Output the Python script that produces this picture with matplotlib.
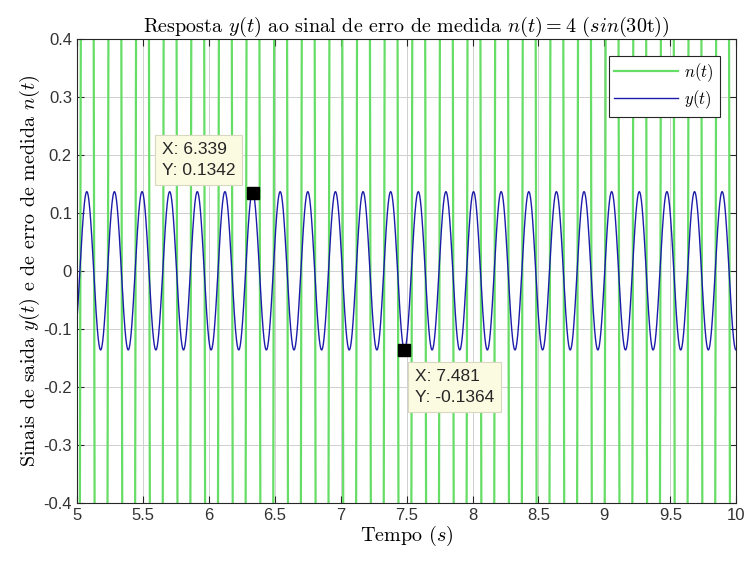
import numpy as np
import matplotlib.pyplot as plt

plt.rcParams['mathtext.fontset'] = 'cm'
plt.rcParams['axes.unicode_minus'] = False

t_ini, t_fim = 5.0, 10.0
n_amp, omega = 4.0, 30.0          # n(t) = 4 sin(30t)
y_amp, y_fase = 0.1365, 0.10      # y(t) = A sin(30t + fase)

# datatips
tip_x = [6.339, 7.481]
tip_y = [0.1342, -0.1364]

x_ticks = [5, 5.5, 6, 6.5, 7, 7.5, 8, 8.5, 9, 9.5, 10]
y_ticks = [-0.4, -0.3, -0.2, -0.1, 0, 0.1, 0.2, 0.3, 0.4]

t = np.linspace(t_ini, t_fim, 40001)
n = n_amp * np.sin(omega * t)
y = y_amp * np.sin(omega * t + y_fase)

fig = plt.figure(figsize=(7.46, 5.63), dpi=100)
ax = fig.add_axes([0.103, 0.107, 0.884, 0.824])

ax.plot(t, n, color='#66dd66', lw=1.6, label=r'$n(t)$')
ax.plot(t, y, color='#1c1caa', lw=1.0, label=r'$y(t)$')

ax.set_xlim(5, 10)
ax.set_ylim(-0.4, 0.4)
ax.set_xticks(x_ticks)
ax.set_yticks(y_ticks)
ax.set_xticklabels([f'{v:g}' for v in x_ticks])
ax.set_yticklabels([f'{v:g}' for v in y_ticks])
for lab in ax.get_xticklabels() + ax.get_yticklabels():
    lab.set_family('Liberation Sans')
    lab.set_fontsize(12)
    lab.set_color('#333333')
ax.tick_params(direction='in', length=5, top=True, right=True, color='#262626')
ax.grid(True, color='#d0d0d0', lw=0.7)
for s in ax.spines.values():
    s.set_color('#262626')
    s.set_linewidth(0.8)

serif = 'cmr10'
ax.set_title(r'Resposta $y(t)$ ao sinal de erro de medida $n(t)=4$ $(sin(30\mathrm{t}))$',
             family=serif, fontsize=14.5, pad=5)
ax.set_xlabel(r'Tempo $(s)$', family=serif, fontsize=14.5, labelpad=1)
ax.set_ylabel(r'Sinais de saida $y(t)$ e de erro de medida $n(t)$', family=serif,
              fontsize=14.5, labelpad=1)

leg = ax.legend(loc='upper right', fontsize=12, fancybox=False, framealpha=1,
                edgecolor='#262626', handlelength=3.8, borderaxespad=1.0,
                labelspacing=0.25, borderpad=0.35, handletextpad=0.4)
leg.get_frame().set_linewidth(0.8)

# datatips
ax.plot(tip_x, tip_y, 's', color='black', ms=9, zorder=5)
box = dict(boxstyle='square,pad=0.4', fc='#fbfbe2', ec='#d8d8c0', lw=0.8)
ax.annotate(f'X: {tip_x[0]}\nY: {tip_y[0]}', (tip_x[0], tip_y[0]),
            xytext=(-13, 11), textcoords='offset points', ha='right', va='bottom',
            multialignment='left', family='Liberation Sans', fontsize=12.5,
            color='#262626', bbox=box, linespacing=1.5, zorder=6)
ax.annotate(f'X: {tip_x[1]}\nY: {tip_y[1]}', (tip_x[1], tip_y[1]),
            xytext=(8, -14), textcoords='offset points', ha='left', va='top',
            multialignment='left', family='Liberation Sans', fontsize=12.5,
            color='#262626', bbox=box, linespacing=1.5, zorder=6)

fig.savefig('out.png', dpi=100)
